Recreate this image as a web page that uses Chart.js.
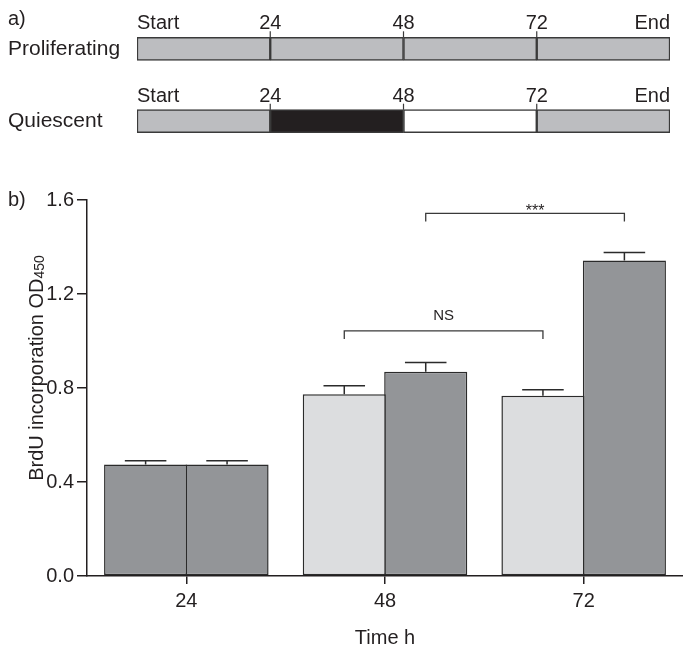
<!DOCTYPE html>
<html>
<head>
<meta charset="utf-8">
<script src="https://cdn.jsdelivr.net/npm/chart.js@4"></script>
<style>
  body { margin: 0; background: #fff; }
  #wrap { position: relative; width: 683px; height: 650px; }
  canvas { position: absolute; left: 0; }
  #timeline { top: 0; }
  #brdu { top: 170px; }
</style>
</head>
<body>
<div id="wrap">
  <canvas id="timeline" width="683" height="170"></canvas>
  <canvas id="brdu" width="683" height="480"></canvas>
</div>
<script>
// panel a - culture schedule
const rows = ['Proliferating', 'Quiescent'];
const phaseEdges = [0, 24, 48, 72, 96];
const phaseLabels = ['Start', '24', '48', '72', 'End'];
const prolifFill = ['#bcbdc0', '#bcbdc0', '#bcbdc0', '#bcbdc0'];
const quiesFill = ['#bcbdc0', '#231f20', '#ffffff', '#bcbdc0'];

// panel b - BrdU incorporation
const times = ['24', '48', '72'];
const firstBar = [0.475, 0.773, 0.767];
const firstErr = [0.015, 0.037, 0.026];
const secondBar = [0.475, 0.869, 1.343];
const secondErr = [0.015, 0.04, 0.034];
const firstFill = ['#939598', '#dcdddf', '#dcdddf'];
const secondFill = ['#939598', '#939598', '#939598'];
const yTicks = [0, 0.4, 0.8, 1.2, 1.6];
const brackets = [
  { ds: 0, from: 1, to: 2, value: 1.043, label: 'NS' },
  { ds: 1, from: 1, to: 2, value: 1.543, label: '***' }
];

const ink = '#231f20';
const edge = '#2b2b2b';
Chart.defaults.font.family = '"Liberation Sans", Arial, sans-serif';
Chart.defaults.color = ink;

let segs = [];
for (let i = 0; i < phaseEdges.length - 1; i++) {
  segs.push({
    data: rows.map(() => [phaseEdges[i], phaseEdges[i + 1]]),
    backgroundColor: [prolifFill[i], quiesFill[i]],
    borderColor: '#3a3a3a',
    borderWidth: 1.5,
    borderSkipped: false,
    barThickness: 23,
    grouped: false
  });
}

const panelLetter = (txt, yPos) => ({
  id: 'letter' + txt,
  afterDraw(chart) {
    const c = chart.ctx;
    c.save();
    c.font = '20px "Liberation Sans", Arial, sans-serif';
    c.fillStyle = ink;
    c.textBaseline = 'middle';
    c.fillText(txt, 8, yPos);
    c.restore();
  }
});

const phaseMarks = {
  id: 'phaseMarks',
  afterDatasetsDraw(chart) {
    const c = chart.ctx, xs = chart.scales.x, ys = chart.scales.y;
    c.save();
    c.font = '20px "Liberation Sans", Arial, sans-serif';
    c.fillStyle = ink;
    c.strokeStyle = '#3a3a3a';
    c.lineWidth = 1.2;
    rows.forEach((r, ri) => {
      const top = ys.getPixelForValue(ri) - 11.5;
      phaseEdges.forEach((e, k) => {
        const px = xs.getPixelForValue(e);
        c.textAlign = k === 0 ? 'left' : (k === phaseEdges.length - 1 ? 'right' : 'center');
        c.fillText(phaseLabels[k], px, top - 8);
        if (k > 0 && k < phaseEdges.length - 1) {
          c.beginPath();
          c.moveTo(px, top - 6);
          c.lineTo(px, top);
          c.stroke();
        }
      });
    });
    c.restore();
  }
};

new Chart(document.getElementById('timeline'), {
  type: 'bar',
  data: { labels: rows, datasets: segs },
  options: {
    responsive: false,
    animation: false,
    indexAxis: 'y',
    layout: { padding: { left: 8, right: 13, top: 9, bottom: 7 } },
    plugins: { legend: { display: false }, tooltip: { enabled: false } },
    scales: {
      x: { type: 'linear', min: 0, max: 96, display: false },
      y: {
        grid: { display: false },
        border: { display: false },
        ticks: { font: { size: 21 }, crossAlign: 'far', padding: 0 },
        afterFit: s => { s.width = 129; }
      }
    }
  },
  plugins: [phaseMarks, panelLetter('a)', 19)]
});

const errorBars = {
  id: 'errorBars',
  afterDatasetsDraw(chart) {
    const c = chart.ctx, ys = chart.scales.y;
    const errs = [firstErr, secondErr];
    c.save();
    c.strokeStyle = edge;
    c.lineWidth = 1.5;
    chart.data.datasets.forEach((ds, di) => {
      chart.getDatasetMeta(di).data.forEach((bar, i) => {
        const yTop = ys.getPixelForValue(ds.data[i] + errs[di][i]);
        const half = bar.width / 4;
        c.beginPath();
        c.moveTo(bar.x, bar.y);
        c.lineTo(bar.x, yTop);
        c.moveTo(bar.x - half, yTop);
        c.lineTo(bar.x + half, yTop);
        c.stroke();
      });
    });
    c.restore();
  }
};

const sigBrackets = {
  id: 'sigBrackets',
  afterDatasetsDraw(chart) {
    const c = chart.ctx, ys = chart.scales.y;
    c.save();
    c.strokeStyle = '#3a3a3a';
    c.fillStyle = ink;
    c.lineWidth = 1.3;
    c.textAlign = 'center';
    brackets.forEach(b => {
      const meta = chart.getDatasetMeta(b.ds);
      const x1 = meta.data[b.from].x, x2 = meta.data[b.to].x;
      const y = ys.getPixelForValue(b.value);
      c.beginPath();
      c.moveTo(x1, y + 8);
      c.lineTo(x1, y);
      c.lineTo(x2, y);
      c.lineTo(x2, y + 8);
      c.stroke();
      if (b.label === '***') {
        c.font = '16px "Liberation Sans", Arial, sans-serif';
        c.fillText(b.label, (x1 + x2) / 2 + 10, y + 3);
      } else {
        c.font = '15px "Liberation Sans", Arial, sans-serif';
        c.fillText(b.label, (x1 + x2) / 2, y - 11);
      }
    });
    c.restore();
  }
};

const yTitle = {
  id: 'yTitle',
  afterDraw(chart) {
    const c = chart.ctx, area = chart.chartArea;
    const main = 'BrdU incorporation OD', sub = '450';
    c.save();
    c.fillStyle = ink;
    c.font = '20px "Liberation Sans", Arial, sans-serif';
    const w1 = c.measureText(main).width;
    c.font = '14px "Liberation Sans", Arial, sans-serif';
    const w2 = c.measureText(sub).width;
    c.translate(43, (area.top + area.bottom) / 2 - 20);
    c.rotate(-Math.PI / 2);
    c.textBaseline = 'alphabetic';
    c.font = '20px "Liberation Sans", Arial, sans-serif';
    c.fillText(main, -(w1 + w2) / 2, 0);
    c.font = '14px "Liberation Sans", Arial, sans-serif';
    c.fillText(sub, -(w1 + w2) / 2 + w1, 1);
    c.restore();
  }
};

new Chart(document.getElementById('brdu'), {
  type: 'bar',
  data: {
    labels: times,
    datasets: [
      { data: firstBar, backgroundColor: firstFill },
      { data: secondBar, backgroundColor: secondFill }
    ]
  },
  options: {
    responsive: false,
    animation: false,
    layout: { padding: { left: 0, right: 0, top: 30, bottom: 0 } },
    datasets: {
      bar: {
        borderColor: edge,
        borderWidth: 1.5,
        borderSkipped: false,
        categoryPercentage: 0.82,
        barPercentage: 1.02
      }
    },
    plugins: { legend: { display: false }, tooltip: { enabled: false } },
    scales: {
      y: {
        min: 0,
        max: 1.6,
        afterBuildTicks: s => { s.ticks = yTicks.map(v => ({ value: v })); },
        ticks: { font: { size: 20 }, padding: 3, callback: v => Number(v).toFixed(1) },
        grid: { drawOnChartArea: false, tickLength: 10, color: ink, lineWidth: 1.5 },
        border: { color: ink, width: 1.5 },
        afterFit: s => { s.width = 87; }
      },
      x: {
        grid: { drawOnChartArea: false, offset: false, tickLength: 8, color: ink, lineWidth: 1.5 },
        border: { color: ink, width: 1.5 },
        ticks: { font: { size: 20 }, padding: 5 },
        title: { display: true, text: 'Time h', font: { size: 20 }, padding: { top: 3, bottom: 0 } },
        afterFit: s => { s.height = 74; }
      }
    }
  },
  plugins: [errorBars, sigBrackets, yTitle, panelLetter('b)', 30)]
});
</script>
</body>
</html>
